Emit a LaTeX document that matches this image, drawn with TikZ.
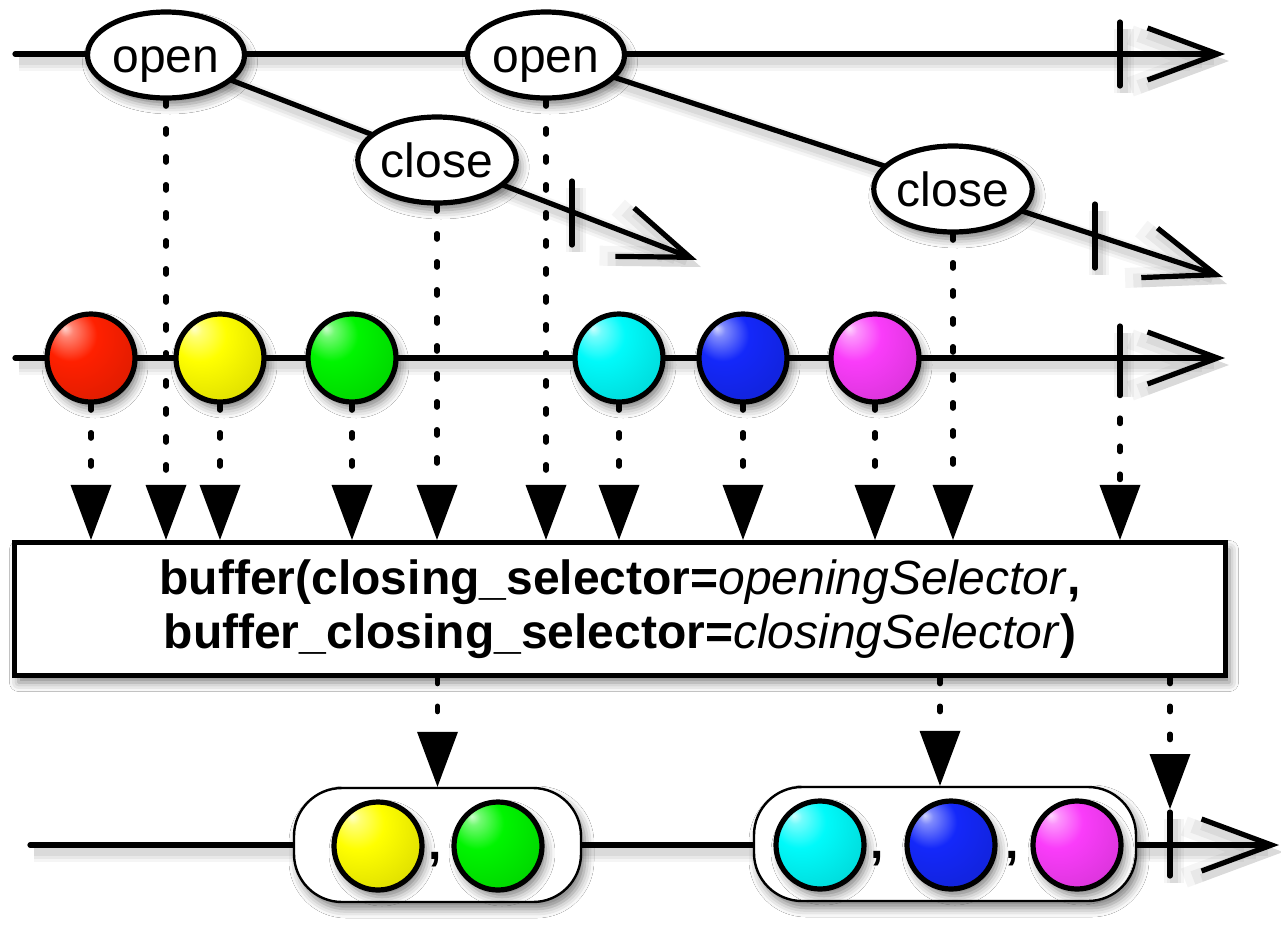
\documentclass[tikz,border=0pt]{standalone}
\usepackage{fontspec}
\setmainfont{Liberation Sans}
\usetikzlibrary{arrows.meta,shapes.geometric,backgrounds,shadows.blur,calc}
\definecolor{mred}{RGB}{255,32,0}
\definecolor{myellow}{RGB}{255,255,0}
\definecolor{mgreen}{RGB}{0,245,0}
\definecolor{mcyan}{RGB}{0,250,250}
\definecolor{mblue}{RGB}{20,40,250}
\definecolor{mmagenta}{RGB}{250,60,250}
\colorlet{mcol}{red}
\pgfdeclareradialshading[mcol]{marble}{\pgfqpoint{-15bp}{17bp}}{%
  color(0bp)=(mcol!20!white); color(4bp)=(mcol!55!white); color(15bp)=(mcol);
  color(40bp)=(mcol!85!black); color(66bp)=(mcol!50!black)}
\tikzset{
  nshadow/.style={blur shadow={shadow xshift=2pt, shadow yshift=-3.5pt, shadow blur radius=4.5pt, shadow opacity=50}},
  lshadow/.style={
    preaction={draw=black, opacity=0.04, line width=10pt, transform canvas={shift={(2pt,-3.5pt)}}},
    preaction={draw=black, opacity=0.05, line width=7pt, transform canvas={shift={(2pt,-3.5pt)}}},
    preaction={draw=black, opacity=0.06, line width=4pt, transform canvas={shift={(2pt,-3.5pt)}}}},
  tl/.style={line width=2.6pt, line cap=round, lshadow},
  barb/.style={-{Straight Barb[length=35pt,width=26pt]}},
  tick/.style={line width=2.6pt, line cap=round, lshadow},
  dots/.style={line width=2.6pt, line cap=round, dash pattern=on 2.8pt off 11.2pt,
    -{Triangle[length=27.5pt,width=20.5pt,line width=0pt]}},
  ev/.style={ellipse, draw=black, line width=2.6pt, fill=white, minimum width=78.5pt,
    minimum height=43pt, inner sep=0pt, text height=17pt, text depth=0pt,
    font=\fontsize{24}{28}\selectfont, nshadow},
  marble/.style={circle, draw=black, line width=2.6pt, minimum size=44pt, inner sep=0pt,
    /utils/exec={\colorlet{mcol}{#1}}, shade, shading=marble, nshadow},
  opbox/.style={draw=black, line width=2.6pt, fill=white, minimum width=605.5pt,
    minimum height=66.5pt, inner sep=0pt, align=center, font=\fontsize{24}{24}\selectfont, nshadow},
  rbox/.style={draw=black, line width=1.2pt, fill=white, rounded corners=24pt,
    minimum height=57pt, inner sep=0pt, nshadow},
  comma/.style={font=\bfseries\fontsize{24}{28}\selectfont, inner sep=0pt, anchor=base}
}
\begin{document}
\begin{tikzpicture}[x=0.5pt,y=-0.5pt]
\useasboundingbox (0,0) rectangle (1281,927);
% coordinates
\coordinate (t1s) at (15,54);  \coordinate (t1e) at (1225,54);
\coordinate (s1e) at (697,260);
\coordinate (s2e) at (1223,277);
\coordinate (ms) at (15,358);  \coordinate (me) at (1225,358);
\coordinate (bs) at (30,845);  \coordinate (be) at (1279,845);
\coordinate (k1a) at (1120,22);  \coordinate (k1b) at (1120,86);
\coordinate (k2a) at (572,181);  \coordinate (k2b) at (572,245);
\coordinate (k3a) at (1095,204); \coordinate (k3b) at (1095,268);
\coordinate (k4a) at (1120,326); \coordinate (k4b) at (1120,390);
\coordinate (k5a) at (1170,812); \coordinate (k5b) at (1170,876);
\coordinate (d2) at (940,0);
% event nodes
\node[ev] (o1) at (166,55) {open};
\node[ev] (c1) at (437,160) {close};
\node[ev] (o2) at (546,55) {open};
\node[ev] (c2) at (953,189) {close};
% input marbles
\node[marble=mred] (r) at (91,358) {};
\node[marble=myellow] (y) at (220,358) {};
\node[marble=mgreen] (g) at (352,358) {};
\node[marble=mcyan] (c) at (619,358) {};
\node[marble=mblue] (b) at (743,358) {};
\node[marble=mmagenta] (m) at (875,358) {};
% operator box
\node[opbox] (box) at (620,609) {\textbf{buffer(closing\_selector=}\textit{openingSelector}\textbf{,}\\[3pt]
\textbf{buffer\_closing\_selector=}\textit{closingSelector}\textbf{)}};
% output buffers
\node[rbox, minimum width=143.5pt] (rb1) at (437.5,845) {};
\node[rbox, minimum width=191pt] (rb2) at (945,844) {};
\node[marble=myellow] (oy) at (378,846) {};
\node[marble=mgreen] (og) at (498,846) {};
\node[comma] (cm1) at (435,859) {,};
\node[marble=mcyan] (oc) at (820,845) {};
\node[marble=mblue] (ob) at (951,845) {};
\node[marble=mmagenta] (om) at (1077,845) {};
\node[comma] (cm2) at (877,858) {,};
\node[comma] (cm3) at (1012,858) {,};
% timelines on background
\begin{scope}[on background layer]
\fill[white] (0,0) rectangle (1281,927);
\draw[tl, barb] (t1s) -- (t1e);
\draw[tl, barb] (o1.center) -- (s1e);
\draw[tl, barb] (o2.center) -- (s2e);
\draw[tl, barb] (ms) -- (me);
\draw[tl, barb] (bs) -- (be);
\end{scope}
% ticks
\draw[tick] (k1a) -- (k1b);
\draw[tick] (k2a) -- (k2b);
\draw[tick] (k3a) -- (k3b);
\draw[tick] (k4a) -- (k4b);
\draw[tick] (k5a) -- (k5b);
% dotted arrows into the operator
\draw[dots] (r.south) -- (r.south |- box.north);
\draw[dots] (o1.south) -- (o1.south |- box.north);
\draw[dots] (y.south) -- (y.south |- box.north);
\draw[dots] (g.south) -- (g.south |- box.north);
\draw[dots] (c1.south) -- (c1.south |- box.north);
\draw[dots] (o2.south) -- (o2.south |- box.north);
\draw[dots] (c.south) -- (c.south |- box.north);
\draw[dots] (b.south) -- (b.south |- box.north);
\draw[dots] (m.south) -- (m.south |- box.north);
\draw[dots] (c2.south) -- (c2.south |- box.north);
\draw[dots] (k4b) -- (k4b |- box.north);
% dotted arrows out of the operator
\draw[dots] (rb1.north |- box.south) -- (rb1.north);
\draw[dots] (d2 |- box.south) -- (d2 |- rb2.north);
\draw[dots] (k5a |- box.south) -- ($(k5a)+(0,-3)$);
\end{tikzpicture}
\end{document}
